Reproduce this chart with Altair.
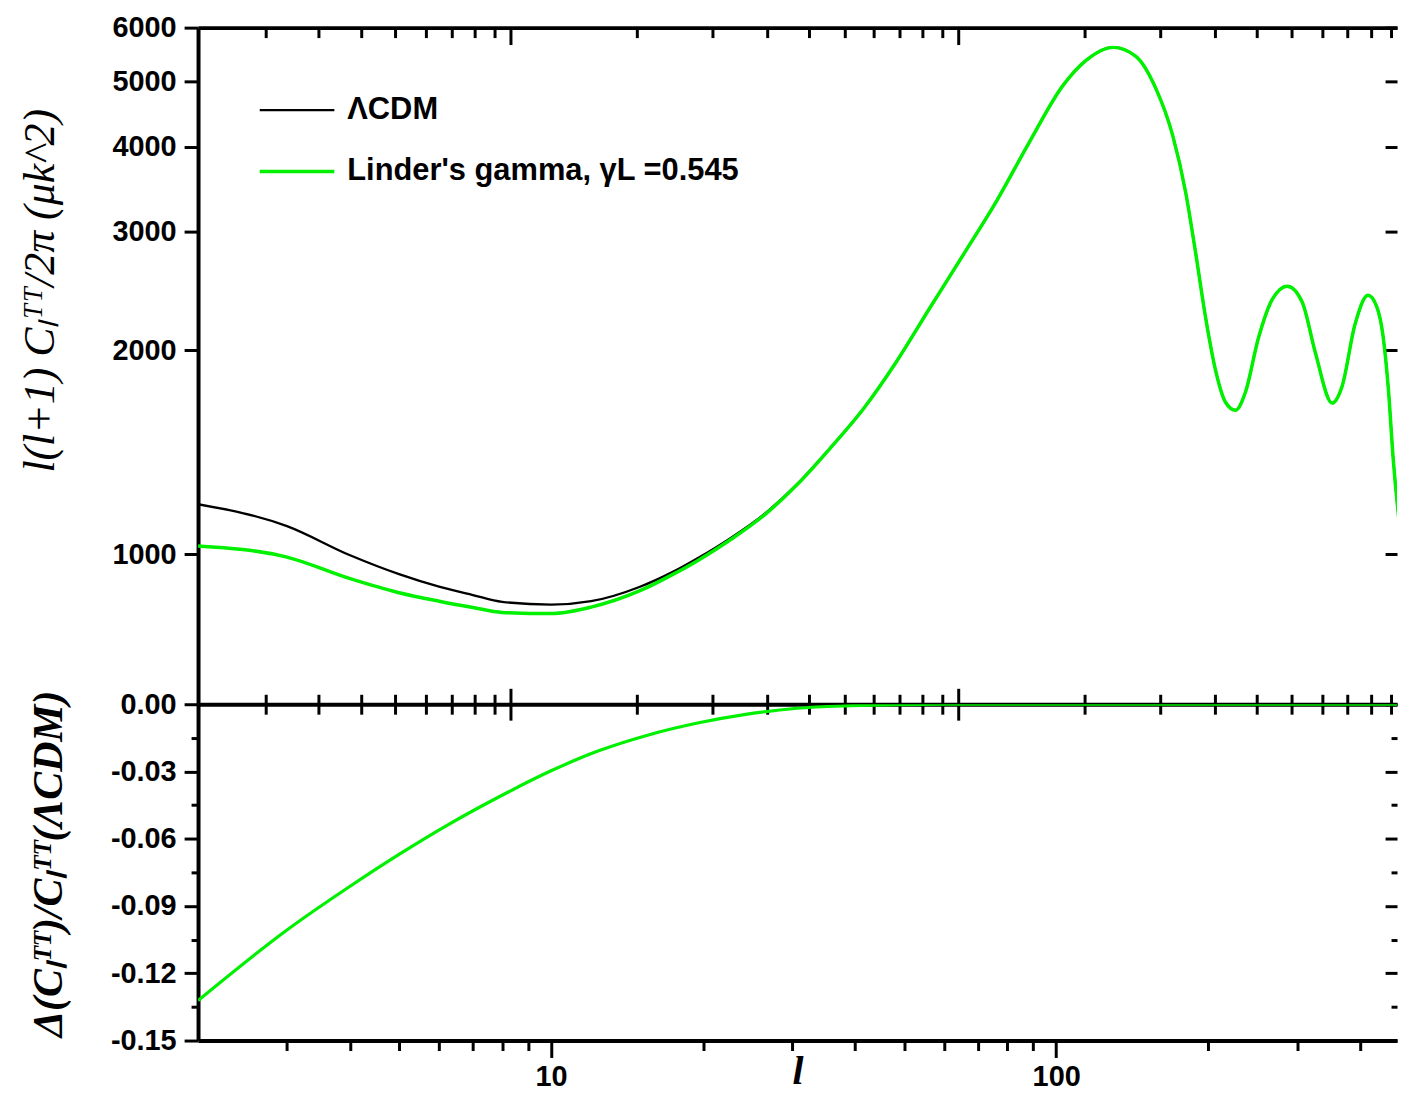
import altair as alt
import pandas as pd

# ---------------- data ----------------
ell = [2, 3, 4, 5, 6, 7, 8, 10, 12, 15, 17.5,
       19.5, 22.65, 26.43, 30.71, 35.67, 41.62, 48.35, 56.17, 65.56, 76.15,
       88.47, 103.2, 114.6, 129.6, 143.8, 157.5, 170.1, 180.5, 188.8, 197.6,
       206.8, 216.4, 226.5, 237.0, 251.4, 268.0, 286.9, 307.1, 325.8, 351.9,
       368.2, 390.6, 414.4, 431.0, 443.6, 454.6, 465.0, 475.6, 483.7]
cl_lcdm = [1185, 1100, 996, 934, 895, 870, 850, 842, 852, 895, 943,
           986, 1056, 1146, 1269, 1434, 1643, 1928, 2309, 2774, 3322,
           4061, 4929, 5367, 5610, 5441, 4879, 4158, 3424, 2793, 2239,
           1870, 1677, 1632, 1735, 2085, 2381, 2489, 2357, 1988, 1672,
           1770, 2186, 2413, 2324, 2107, 1759, 1379, 1150, 1031]
cl_linder = [1028, 990, 920, 877, 852, 834, 820, 817, 835, 883, 935,
             978, 1050, 1142, 1267, 1433, 1643, 1928, 2309, 2774, 3322,
             4061, 4929, 5367, 5610, 5441, 4879, 4158, 3424, 2793, 2239,
             1870, 1677, 1632, 1735, 2085, 2381, 2489, 2357, 1988, 1672,
             1770, 2186, 2413, 2324, 2107, 1759, 1379, 1150, 1031]

ell_ratio = [2, 3, 4, 5, 6.26, 7.86, 10, 12.38, 15.53, 19.5, 24.46, 30.71,
             38.5, 48.35, 60.7, 100, 200, 484]
ratio = [-0.1322, -0.1007, -0.0812, -0.0670, -0.0537, -0.0415, -0.0297,
         -0.0209, -0.0138, -0.0084, -0.0044, -0.0018, -0.0007, -0.0002,
         0.0, 0.0, 0.0, 0.0]

series_names = ["\u039bCDM", "Linder's gamma, \u03b3L =0.545"]

cl_ticks = [1000, 2000, 3000, 4000, 5000, 6000]
ratio_ticks = [-0.15, -0.12, -0.09, -0.06, -0.03, 0.0]
ratio_minor = [-0.135, -0.105, -0.075, -0.045, -0.015]
bottom_major = [10, 100]
bottom_minor = [3, 4, 5, 6, 7, 8, 9, 20, 30, 40, 50, 60, 70, 80, 90, 200, 300, 400]
# mirrored (top / middle) axis ticks as they appear in the reference
top_major = [8.3, 64.1]
top_minor = [2.72, 3.47, 4.20, 4.92, 5.64, 6.35, 7.05, 7.72,
             14.8, 20.9, 26.8, 32.4, 38.2, 43.6, 49.0, 54.4, 59.6,
             114, 161, 206, 250, 293, 336, 377, 420, 460]

GREEN = "#00f000"
W = 1205
H1 = 680
H2 = 338

df_top = pd.DataFrame({
    "l": ell + ell,
    "cl": cl_lcdm + cl_linder,
    "series": [series_names[0]] * len(ell) + [series_names[1]] * len(ell),
})
df_ratio = pd.DataFrame({"l": ell_ratio, "r": ratio})


def xs():
    return alt.Scale(type="log", domain=[2, 473], nice=False)


def ys1():
    return alt.Scale(type="log", domain=[600, 6000], nice=False)


def ys2():
    return alt.Scale(domain=[-0.15, 0.0], nice=False, zero=False)


def tick_axis(orient, values, size, offset=0, domain=False, width=3):
    return alt.Axis(orient=orient, values=values, tickSize=size, tickWidth=width,
                    labels=False, domain=domain, domainWidth=4, title=None,
                    grid=False, offset=offset)


def ghost(df):
    # invisible, clipped carrier layer that only holds an extra axis
    return alt.Chart(df).mark_line(opacity=0, clip=True)


SERIF = "Liberation Serif"

# ---------------- upper panel ----------------
t_main = alt.Chart(df_top).mark_line(clip=True, interpolate="monotone").encode(
    x=alt.X("l:Q", scale=xs(), axis=tick_axis("bottom", top_minor, 10, domain=True)),
    y=alt.Y("cl:Q", scale=ys1(), axis=alt.Axis(
        orient="left", values=cl_ticks, format="d", tickSize=14, tickWidth=3,
        domainWidth=4, labelPadding=8, grid=False,
        title="l(l+1) C\u2097\u1d40\u1d40/2\u03c0 (\u03bck^2)",
        titleFont=SERIF, titleFontStyle="italic", titleFontWeight="normal",
        titleFontSize=44, titleX=-136, titleY=264, titleBaseline="bottom",
        titleAlign="center")),
    color=alt.Color("series:N", scale=alt.Scale(domain=series_names, range=["black", GREEN]),
                    legend=alt.Legend(orient="none", legendX=60, legendY=44, title=None,
                                      symbolType="stroke", symbolSize=5625,
                                      symbolStrokeWidth=3, labelFont="Liberation Sans",
                                      labelFontWeight="bold", labelFontSize=31,
                                      labelColor="black", labelOffset=11,
                                      labelLimit=800, rowPadding=7)),
    strokeWidth=alt.StrokeWidth("series:N", scale=alt.Scale(domain=series_names, range=[2.3, 3.5]),
                                legend=None),
)

t_top = ghost(df_top).encode(
    x=alt.X("l:Q", scale=xs(), axis=tick_axis("bottom", top_minor, 10, offset=-H1, domain=True)),
    y=alt.Y("cl:Q", scale=ys1(), axis=tick_axis("left", cl_ticks, 12, offset=-W)),
)
t_top_major = ghost(df_top).encode(
    x=alt.X("l:Q", scale=xs(), axis=tick_axis("bottom", top_major, 17, offset=-H1)),
    y=alt.Y("cl:Q", scale=ys1(), axis=None),
)
t_mid_major = ghost(df_top).encode(
    x=alt.X("l:Q", scale=xs(), axis=tick_axis("bottom", top_major, 16)),
    y=alt.Y("cl:Q", scale=ys1(), axis=None),
)

upper = alt.layer(t_main, t_top, t_top_major, t_mid_major).resolve_scale(
    x="independent", y="independent").properties(width=W, height=H1)

# ---------------- lower panel ----------------
b_main = alt.Chart(df_ratio).mark_line(clip=True, interpolate="monotone",
                                       color=GREEN, strokeWidth=3.2).encode(
    x=alt.X("l:Q", scale=xs(), axis=alt.Axis(
        orient="bottom", values=bottom_major, format="d", tickSize=17, tickWidth=3,
        domainWidth=4, labelPadding=5, grid=False,
        title="l", titleFont=SERIF, titleFontStyle="italic", titleFontWeight="bold",
        titleFontSize=40, titleY=43, titleBaseline="alphabetic")),
    y=alt.Y("r:Q", scale=ys2(), axis=alt.Axis(
        orient="left", values=ratio_ticks, tickSize=14, tickWidth=3, domainWidth=4,
        labelPadding=8, grid=False,
        labelExpr="replace(format(datum.value, '.2f'), '\u2212', '-')",
        title="\u0394(C\u2097\u1d40\u1d40)/C\u2097\u1d40\u1d40(\u039bCDM)",
        titleFont=SERIF, titleFontStyle="italic", titleFontWeight="bold",
        titleFontSize=42, titleX=-128, titleY=160, titleBaseline="bottom",
        titleAlign="center")),
)
b_minor = ghost(df_ratio).encode(
    x=alt.X("l:Q", scale=xs(), axis=tick_axis("bottom", bottom_minor, 10)),
    y=alt.Y("r:Q", scale=ys2(), axis=tick_axis("left", ratio_minor, 7)),
)
b_top = ghost(df_ratio).encode(
    x=alt.X("l:Q", scale=xs(), axis=tick_axis("top", top_minor, 10)),
    y=alt.Y("r:Q", scale=ys2(), axis=tick_axis("left", ratio_ticks, 12, offset=-W)),
)
b_top_major = ghost(df_ratio).encode(
    x=alt.X("l:Q", scale=xs(), axis=tick_axis("top", top_major, 16)),
    y=alt.Y("r:Q", scale=ys2(), axis=tick_axis("left", ratio_minor, 6, offset=-W)),
)

lower = alt.layer(b_main, b_minor, b_top, b_top_major).resolve_scale(
    x="independent", y="independent").properties(width=W, height=H2)

chart = alt.vconcat(upper, lower, spacing=0, bounds="flush").properties(
    padding={"left": 10, "top": 3, "right": 0, "bottom": 0},
    background="white",
).configure_axis(
    labelFont="Liberation Sans", labelFontWeight="bold", labelFontSize=29,
    labelColor="black", domainColor="black", tickColor="black", titleColor="black",
).configure_view(stroke=None)

chart.save("out.html", embed_options={"renderer": "svg", "actions": False})
